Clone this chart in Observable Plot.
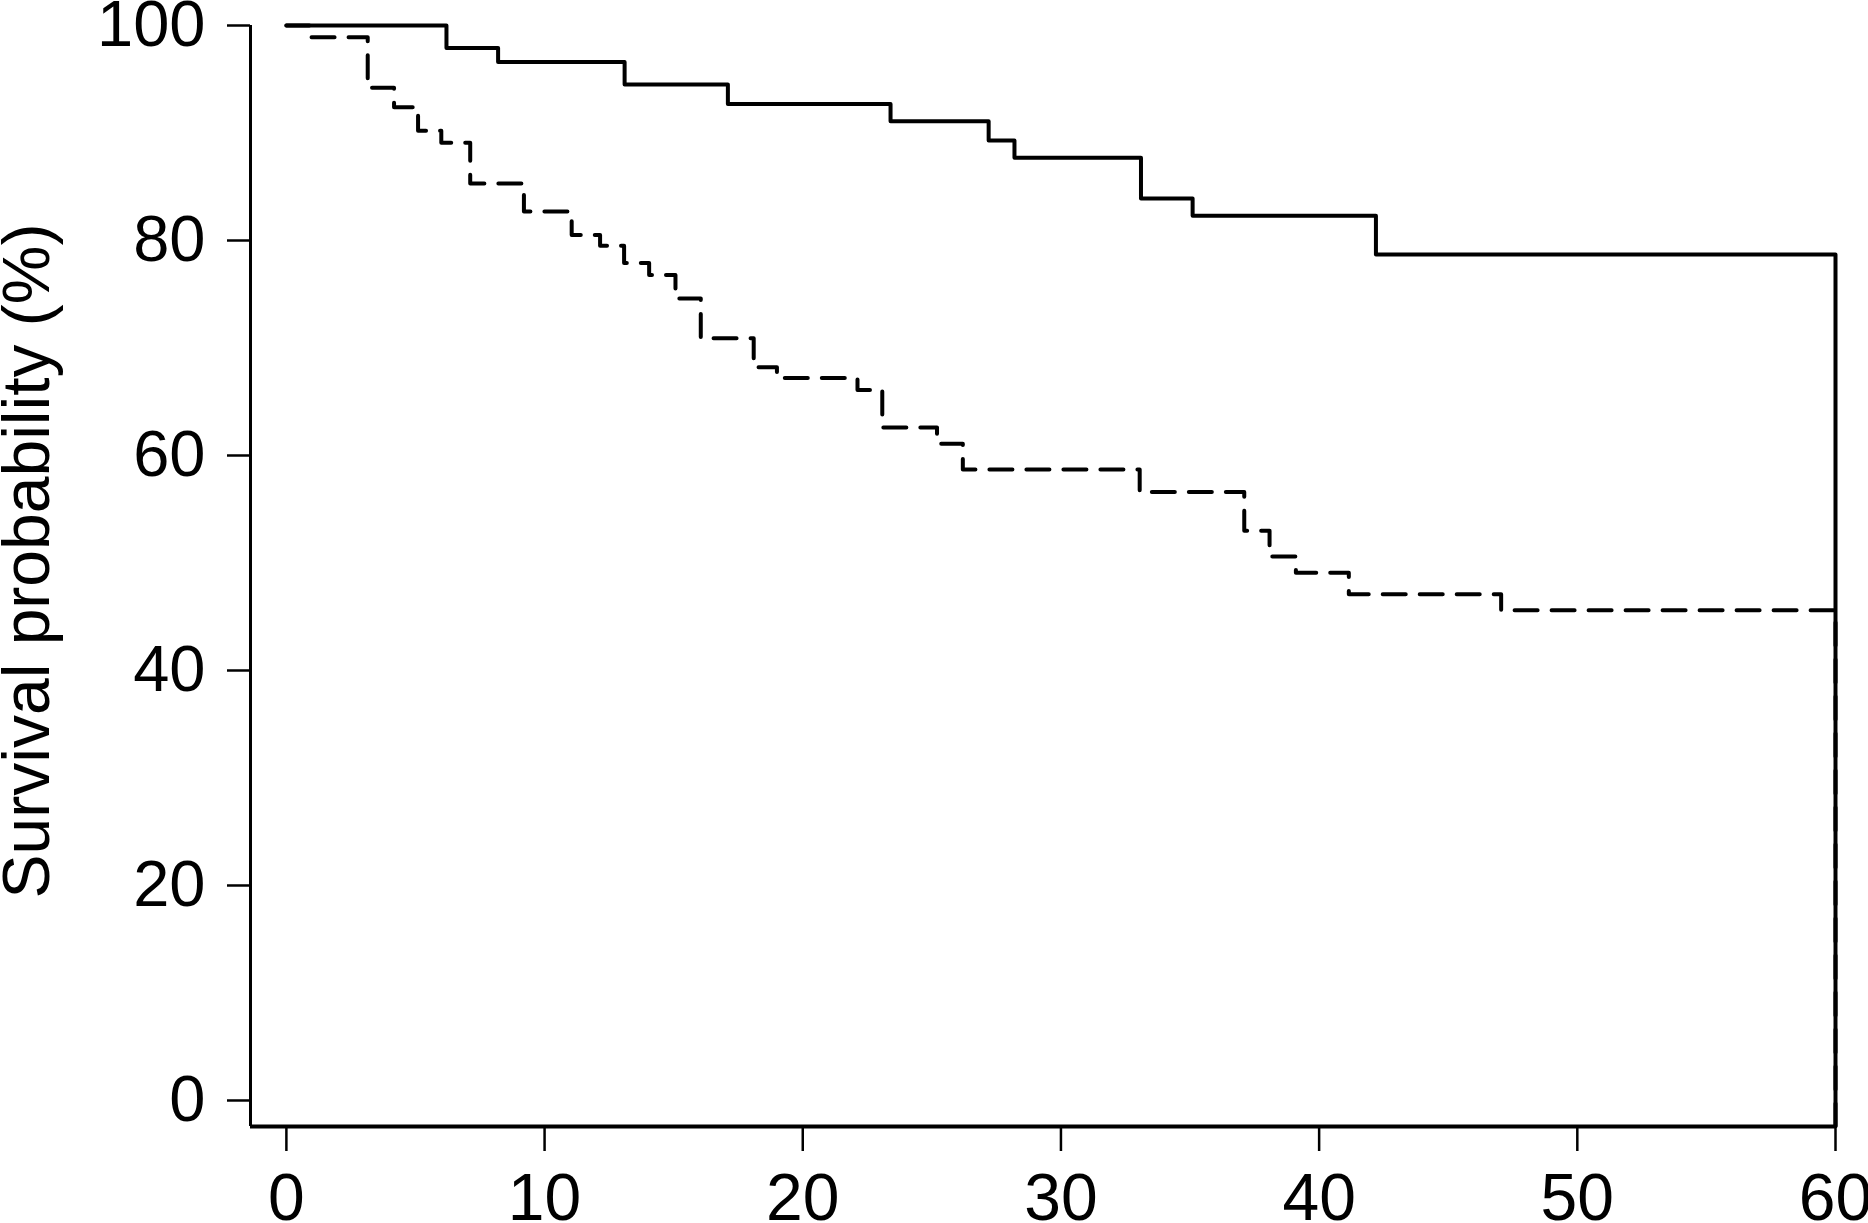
<!DOCTYPE html>
<html>
<head>
<meta charset="utf-8">
<script src="https://cdn.jsdelivr.net/npm/d3@7"></script>
<script src="https://cdn.jsdelivr.net/npm/@observablehq/plot@0.6"></script>
<style>
  html, body { margin: 0; padding: 0; background: #fff; }
  svg { display: block; }
</style>
</head>
<body>
<div id="chart"></div>
<script>
// Solid curve (group A)
const timesA = [0, 6.2, 8.2, 13.1, 17.1, 23.4, 27.2, 28.2, 33.1, 35.1, 42.2, 60, 60];
const survA  = [100, 97.9, 96.6, 94.5, 92.7, 91.1, 89.3, 87.7, 83.9, 82.3, 78.7, 78.7, -2.4];

// Dashed curve (group B)
const timesB = [0, 0.9, 3.15, 4.17, 5.1, 6.0, 7.12, 9.2, 11.05, 12.15, 13.08, 14.05, 15.07, 16.05, 18.1, 19.0, 22.12, 23.08, 25.2, 26.2, 33.05, 37.1, 38.08, 39.1, 41.15, 47.05, 60, 60];
const survB  = [100, 98.9, 94.2, 92.4, 90.2, 89.1, 85.3, 82.7, 80.5, 79.5, 77.9, 76.8, 74.6, 70.9, 68.2, 67.2, 66.1, 62.6, 61.1, 58.7, 56.6, 53.0, 50.6, 49.1, 47.1, 45.6, 45.6, -2.4];

const xTicks = [0, 10, 20, 30, 40, 50, 60];
const yTicks = [0, 20, 40, 60, 80, 100];
const yLabel = "Survival probability (%)";

const xDomain = [-1.39, 60];
const yDomain = [-2.42, 100];

const seriesA = timesA.map((t, i) => ({t, s: survA[i]}));
const seriesB = timesB.map((t, i) => ({t, s: survB[i]}));

const font = "'Liberation Sans', Arial, Helvetica, sans-serif";

const chart = Plot.plot({
  width: 1868,
  height: 1223,
  marginLeft: 250,
  marginRight: 33,
  marginTop: 25,
  marginBottom: 97,
  style: {fontFamily: font, background: "#fff", color: "#000", overflow: "visible"},
  x: {domain: xDomain, label: null},
  y: {domain: yDomain, label: null},
  marks: [
    Plot.axisY({ticks: yTicks, tickSize: 23, tickPadding: 22, fontSize: 65, strokeWidth: 2.5, label: null, anchor: "left"}),
    Plot.axisX({ticks: xTicks, tickSize: 25, tickPadding: 22, fontSize: 66, strokeWidth: 2.5, label: null, anchor: "bottom"}),
    Plot.ruleX([xDomain[0]], {stroke: "#000", strokeWidth: 3}),
    Plot.ruleY([yDomain[0]], {stroke: "#000", strokeWidth: 3.8}),
    Plot.line(seriesB, {x: "t", y: "s", curve: "step-after", stroke: "#000", strokeWidth: 4, strokeDasharray: "23,14"}),
    Plot.line(seriesA, {x: "t", y: "s", curve: "step-after", stroke: "#000", strokeWidth: 4})
    ,
    Plot.text([yLabel], {frameAnchor: "left", text: d => d, rotate: -90, dx: -248, dy: -15, fontSize: 66, textAnchor: "middle", lineAnchor: "top", fill: "#000"})
  ]
});

document.getElementById("chart").appendChild(chart);
</script>
</body>
</html>
